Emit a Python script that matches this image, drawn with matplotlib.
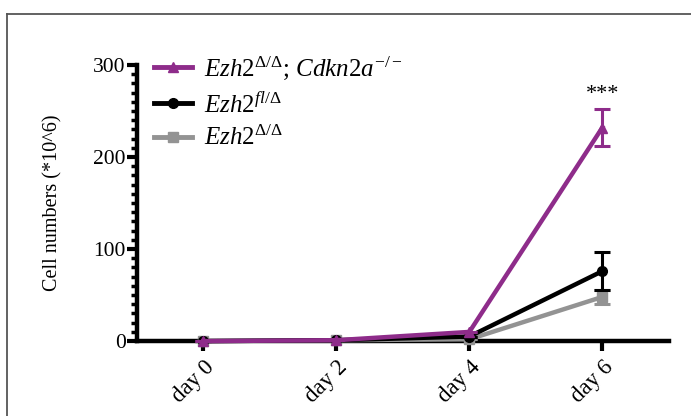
import matplotlib
matplotlib.use("Agg")
import matplotlib.pyplot as plt
from matplotlib.ticker import MultipleLocator
from matplotlib.lines import Line2D

plt.rcParams['font.family'] = ['Liberation Serif', 'DejaVu Serif']
plt.rcParams['mathtext.fontset'] = 'custom'
plt.rcParams['mathtext.rm'] = 'Liberation Serif'
plt.rcParams['mathtext.it'] = 'Liberation Serif:italic'

days = ["day 0", "day 2", "day 4", "day 6"]
dko_cdkn = [0, 1, 10, 232]
dko_cdkn_err = [0, 0, 0, 20]
fl_del = [0, 1, 5, 76]
fl_del_err = [0, 0, 0, 21]
del_del = [0, 1, 2, 48]
del_del_err = [0, 0, 0, 8]

labels = [r"$\mathit{Ezh2}^{\Delta/\Delta}$; $\mathit{Cdkn2a}^{-/-}$",
          r"$\mathit{Ezh2}^{\mathit{fl}/\Delta}$",
          r"$\mathit{Ezh2}^{\Delta/\Delta}$"]
colors = ["#8e2c8a", "#000000", "#939393"]
markers = ["^", "o", "s"]

fig = plt.figure(figsize=(6.91, 4.16), dpi=100)
ax = fig.add_axes([0.198, 0.180, 0.770, 0.664])

x = list(range(len(days)))
series = [(del_del, del_del_err, 2), (fl_del, fl_del_err, 1), (dko_cdkn, dko_cdkn_err, 0)]
for vals, errs, i in series:
    ax.errorbar(x, vals, yerr=errs, color=colors[i], marker=markers[i],
                markersize=7, linewidth=3.2, elinewidth=2.2, capsize=6,
                capthick=2.2, clip_on=False, zorder=3 + (2 - i))

ax.set_xlim(-0.5, 3.5)
ax.set_ylim(0, 300)
ax.set_xticks(x)
ax.set_xticklabels(days, rotation=45, ha="right", rotation_mode="anchor", fontsize=16.5)
ax.set_yticks([0, 100, 200, 300])
ax.yaxis.set_minor_locator(MultipleLocator(10))
ax.tick_params(axis="y", which="major", length=7, width=3, labelsize=15.5, pad=1)
ax.tick_params(axis="y", which="minor", length=4, width=2.5)
ax.tick_params(axis="x", which="major", length=7, width=3, pad=4)
for s in ["top", "right"]:
    ax.spines[s].set_visible(False)
for s in ["left", "bottom"]:
    ax.spines[s].set_linewidth(3.2)
ax.set_ylabel("Cell numbers (*10^6)", fontsize=14.5, labelpad=22)

ax.text(3, 258, "***", ha="center", va="bottom", fontsize=16)

handles = [Line2D([], [], color=colors[i], marker=markers[i], markersize=7,
                  linewidth=3.5) for i in range(3)]
ax.legend(handles, labels, loc="upper left",
          bbox_to_anchor=(0.0, 1.10), frameon=False, fontsize=18,
          handlelength=1.5, handletextpad=0.5, labelspacing=0.38,
          borderaxespad=0.3)

# panel frame
fig.add_artist(Line2D([0.010, 1.0], [0.966, 0.966], transform=fig.transFigure,
                      color="#555555", linewidth=1.3))
fig.add_artist(Line2D([0.010, 0.010], [0.0, 0.966], transform=fig.transFigure,
                      color="#555555", linewidth=1.3))

fig.savefig("out.png", dpi=100)
